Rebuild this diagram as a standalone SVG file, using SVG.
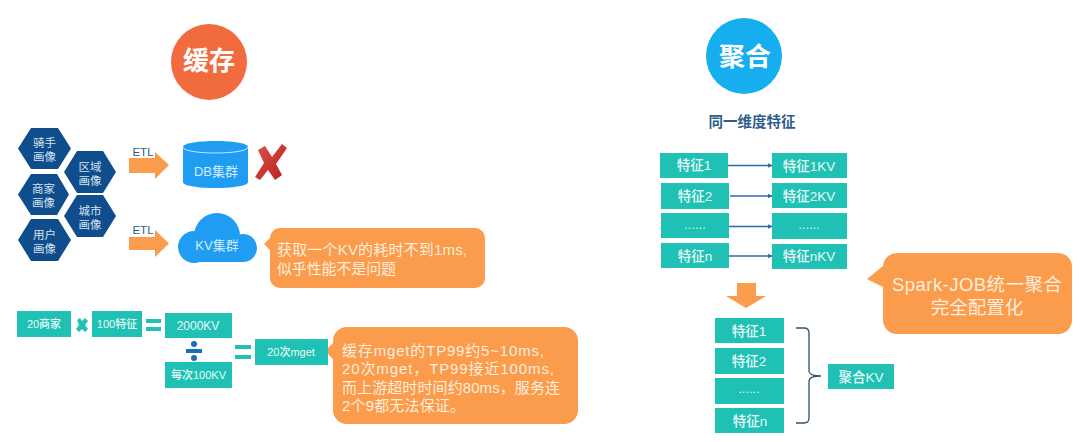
<svg xmlns="http://www.w3.org/2000/svg" width="1080" height="442" viewBox="0 0 1080 442">
<defs>
<style>
text{font-family:"Liberation Sans","Noto Sans CJK SC",sans-serif;text-anchor:middle}
.box{fill:#1fc1b5}
.bt{fill:#eafaf8;font-size:13.5px;font-weight:500}
.sm{fill:#eafaf8;font-size:11px;font-weight:500}
.md{fill:#eafaf8;font-size:12px;font-weight:500}
.hex{fill:#0f4d8c}
.ht{fill:#d5e3ef;font-size:11.5px}
.org{fill:#fb9b4c}
.ct{fill:#fdeedd;font-size:15px;text-anchor:start}
.etl{fill:#2b5c8c;font-size:11.5px;font-weight:500}
.conn{fill:none;stroke:#2f6aa8;stroke-width:1.3}
.dots{fill:#d8f5f2;font-size:13px}
</style>
<marker id="ah" markerWidth="6" markerHeight="6" refX="4.5" refY="2.5" orient="auto" markerUnits="userSpaceOnUse"><path d="M0 0L5 2.5L0 5Z" fill="#2f6aa8"/></marker>
<linearGradient id="x" x1="0" y1="0" x2="1" y2="1"><stop offset="0" stop-color="#e0524a"/><stop offset="1" stop-color="#b51f1f"/></linearGradient>
</defs>
<rect width="1080" height="442" fill="#fff"/>

<g id="title-cache"><circle cx="209" cy="62" r="38" fill="#f26b3f"/><text x="209" y="70" fill="#fff" font-size="26" font-weight="700">缓存</text></g>
<g id="title-agg"><circle cx="744" cy="56" r="38" fill="#16aeef"/><text x="745" y="66" fill="#fff" font-size="26" font-weight="700">聚合</text></g>

<g id="hex-rider"><path class="hex" d="M18 148.500L31 128H58L71 148.500L58 169H31Z"/><text class="ht" x="44.500" y="147">骑手</text><text class="ht" x="44.500" y="161">画像</text></g>
<g id="hex-area"><path class="hex" d="M64 172L77 151H103L116 172L103 193H77Z"/><text class="ht" x="90" y="171">区域</text><text class="ht" x="90" y="185">画像</text></g>
<g id="hex-shop"><path class="hex" d="M18 194.500L31 174H57L69 194.500L57 215H31Z"/><text class="ht" x="43.500" y="193">商家</text><text class="ht" x="43.500" y="207">画像</text></g>
<g id="hex-city"><path class="hex" d="M64 216L77 195H103L116 216L103 237H77Z"/><text class="ht" x="90" y="215">城市</text><text class="ht" x="90" y="229">画像</text></g>
<g id="hex-user"><path class="hex" d="M18 240L31 219H58L71 240L58 261H31Z"/><text class="ht" x="44.500" y="239">用户</text><text class="ht" x="44.500" y="253">画像</text></g>

<g id="etl-1"><path class="org" d="M129 158H155V152L169 165L155 179V173H129Z"/><text class="etl" x="143" y="156">ETL</text></g>
<g id="etl-2"><path class="org" d="M129 237H155V230L169 243.500L155 257V250H129Z"/><text class="etl" x="143" y="234">ETL</text></g>

<g id="db"><path d="M183 147C183 139 248 139 248 147V182C248 190 183 190 183 182Z" fill="#1e9df2"/><path d="M183 147C183 155 248 155 248 147" fill="none" stroke="#cfe9fc" stroke-width="1"/><text x="216" y="176" fill="#d5ecfd" font-size="13">DB集群</text></g>
<path id="cross" d="M255 177L264 163L258 150L265 146L272 157L282 144L287 148L276 164L282 175L275 180L268 170L260 180Z" fill="url(#x)"/>

<g id="kv" fill="#1e9df2"><circle cx="194" cy="247" r="16"/><circle cx="243" cy="248" r="14"/><circle cx="217" cy="236" r="23"/><rect x="194" y="240" width="49" height="22"/><text x="217" y="250" fill="#d5ecfd" font-size="13">KV集群</text></g>

<g id="note-1"><path class="org" d="M280 228H475A10 10 0 0 1 485 238V278A10 10 0 0 1 475 288H280A10 10 0 0 1 270 278V250L264 244L270 238A10 10 0 0 1 280 228Z"/><text class="ct" x="277" y="255" textLength="190" lengthAdjust="spacing">获取一个KV的耗时不到1ms,</text><text class="ct" x="277" y="274" textLength="119" lengthAdjust="spacing">似乎性能不是问题</text></g>
<g id="note-2"><path class="org" d="M347 327H564A14 14 0 0 1 578 341V410A14 14 0 0 1 564 424H347A14 14 0 0 1 333 410V359L325 351L333 343V341A14 14 0 0 1 347 327Z"/><text class="ct" x="342" y="356" textLength="202" lengthAdjust="spacing">缓存mget的TP99约5~10ms,</text><text class="ct" x="342" y="374" textLength="212" lengthAdjust="spacing">20次mget，TP99接近100ms,</text><text class="ct" x="342" y="393" textLength="218" lengthAdjust="spacing">而上游超时时间约80ms，服务连</text><text class="ct" x="342" y="411" textLength="123" lengthAdjust="spacing">2个9都无法保证。</text></g>
<g id="note-3"><path class="org" d="M897 253H1058A14 14 0 0 1 1072 267V320A14 14 0 0 1 1058 334H897A14 14 0 0 1 883 320V287L867 279L883 266A14 14 0 0 1 897 253Z"/><text x="977" y="291" fill="#fdeedd" font-size="18.500" textLength="170" lengthAdjust="spacing">Spark-JOB统一聚合</text><text x="977" y="314" fill="#fdeedd" font-size="18.500">完全配置化</text></g>

<g id="calc-20shop"><rect class="box" x="17" y="311" width="54" height="26"/><text class="sm" x="44" y="328">20商家</text></g>
<path id="op-times" d="M77 320L80 318L82 321L85 318L88 321L85 325L88 329L85 332L82 329L79 332L76 329L79 325Z" fill="#1fc1b5"/>
<g id="calc-100"><rect class="box" x="92" y="311" width="50" height="26"/><text class="sm" x="117" y="328">100特征</text></g>
<path id="op-eq1" d="M146 319H161V323H146ZM146 327H161V331H146Z" fill="#1fc1b5"/>
<g id="calc-2000"><rect class="box" x="165" y="313" width="67" height="25"/><text class="md" x="198" y="330">2000KV</text></g>
<g id="op-div" fill="#1a6fb0"><circle cx="194" cy="344" r="3"/><rect x="186" y="349" width="16" height="4"/><circle cx="194" cy="358" r="3"/></g>
<g id="calc-per"><rect class="box" x="165" y="362" width="67" height="26"/><text class="sm" x="198.500" y="379">每次100KV</text></g>
<path id="op-eq2" d="M235 345H251V349H235ZM235 355H251V359H235Z" fill="#1fc1b5"/>
<g id="calc-20"><rect class="box" x="255" y="339" width="73" height="26"/><text class="sm" x="291" y="356">20次mget</text></g>

<text id="dim-title" x="752" y="127" fill="#2f5d8a" font-size="14.500" font-weight="700">同一维度特征</text>

<g id="connectors">
<path class="conn" marker-end="url(#ah)" d="M728 165.500H772"/>
<path class="conn" marker-end="url(#ah)" d="M730 196H772"/>
<path class="conn" marker-end="url(#ah)" d="M729 226.500H772"/>
<path class="conn" marker-end="url(#ah)" d="M729 256H772"/>
<path d="M796 328H804Q809 328 809 333V371Q809 376 821 376Q809 376 809 381V418Q809 423 804 423H796" fill="none" stroke="#33506a" stroke-width="1.300"/>
</g>

<g id="f1"><rect class="box" x="660" y="153" width="68" height="25"/><text class="bt" x="694" y="170">特征1</text></g>
<g id="f2"><rect class="box" x="661" y="183" width="68" height="26"/><text class="bt" x="695" y="201">特征2</text></g>
<g id="f3"><rect class="box" x="661" y="213" width="68" height="25"/><text class="dots" x="695" y="229">......</text></g>
<g id="fn"><rect class="box" x="661" y="243" width="68" height="25"/><text class="bt" x="695" y="261">特征n</text></g>
<g id="k1"><rect class="box" x="772" y="153" width="75" height="25"/><text class="bt" x="809" y="171">特征1KV</text></g>
<g id="k2"><rect class="box" x="772" y="183" width="75" height="25"/><text class="bt" x="809" y="201">特征2KV</text></g>
<g id="k3"><rect class="box" x="772" y="213" width="75" height="26"/><text class="dots" x="809" y="229">......</text></g>
<g id="kn"><rect class="box" x="772" y="244" width="75" height="25"/><text class="bt" x="809" y="261">特征nKV</text></g>

<path id="down" class="org" d="M737 283H756V296H766L746 308L726 296H737Z"/>

<g id="a1"><rect class="box" x="715" y="318" width="69" height="25"/><text class="bt" x="749" y="336">特征1</text></g>
<g id="a2"><rect class="box" x="715" y="348" width="69" height="26"/><text class="bt" x="749" y="366">特征2</text></g>
<g id="a3"><rect class="box" x="715" y="378" width="69" height="26"/><text class="dots" x="749" y="393">......</text></g>
<g id="an"><rect class="box" x="715" y="408" width="69" height="25"/><text class="bt" x="750" y="426">特征n</text></g>
<g id="agg"><rect class="box" x="828" y="364" width="66" height="25"/><text class="bt" x="861" y="382">聚合KV</text></g>
</svg>
